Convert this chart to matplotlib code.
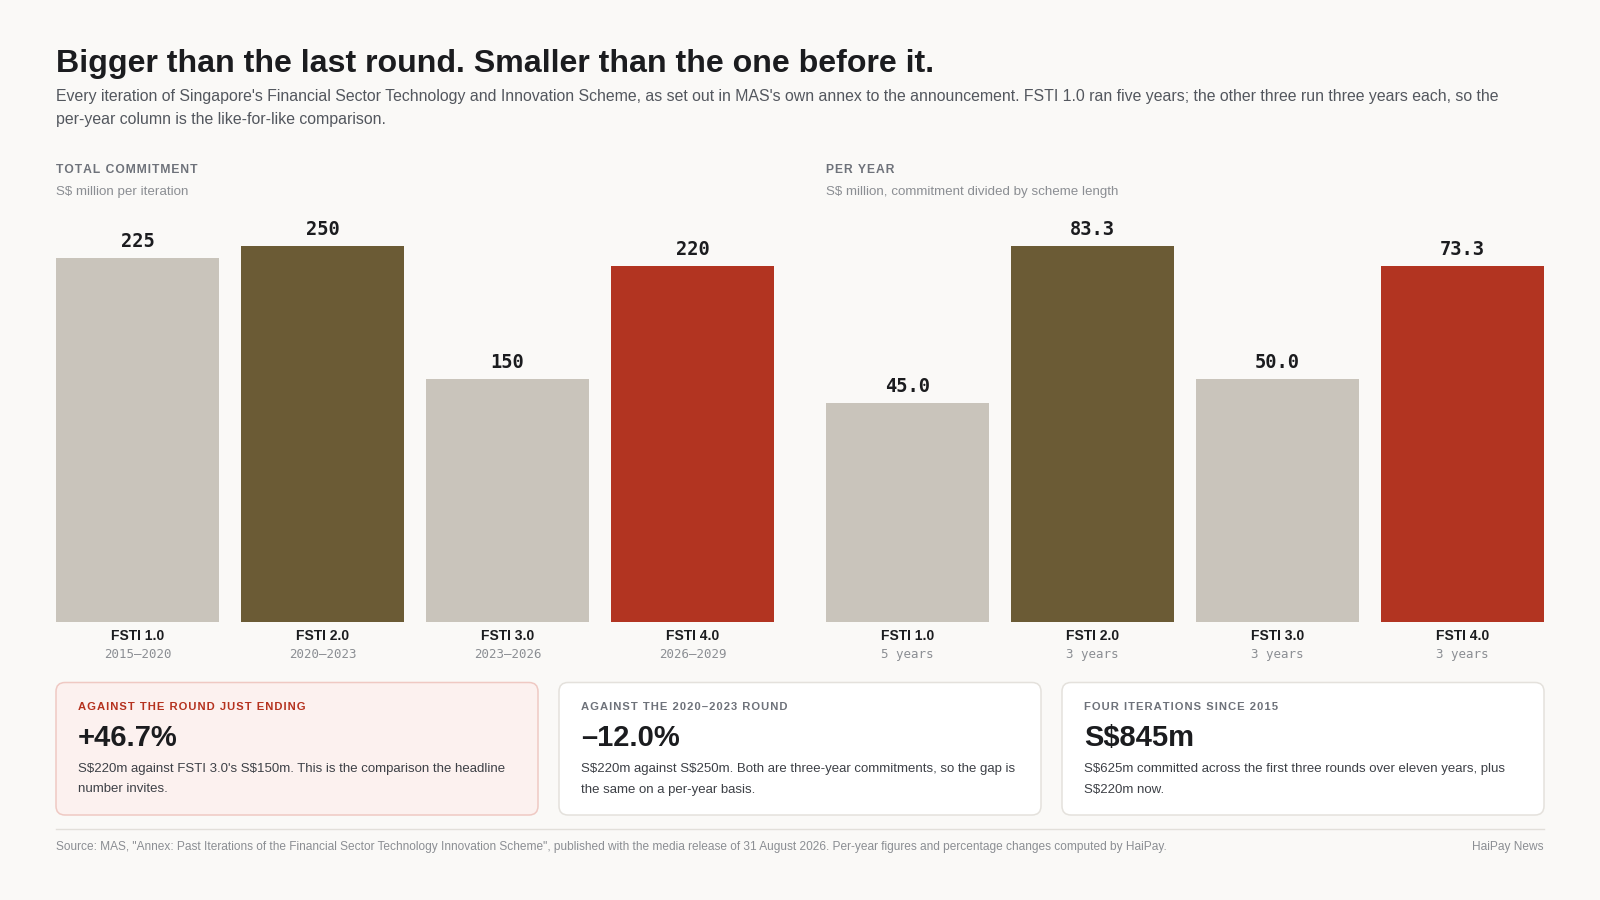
import matplotlib
matplotlib.use("Agg")
import matplotlib.pyplot as plt
from matplotlib.patches import FancyBboxPatch

plt.rcParams["text.parse_math"] = False

# data
iterations = ["FSTI 1.0", "FSTI 2.0", "FSTI 3.0", "FSTI 4.0"]
periods = ["2015–2020", "2020–2023", "2023–2026", "2026–2029"]
durations = ["5 years", "3 years", "3 years", "3 years"]
total_commitment = [225, 250, 150, 220]
per_year = [45.0, 83.3, 50.0, 73.3]

card_labels = ["AGAINST THE ROUND JUST ENDING", "AGAINST THE 2020–2023 ROUND", "FOUR ITERATIONS SINCE 2015"]
card_values = ["+46.7%", "–12.0%", "S$845m"]
card_notes = [
    "S$220m against FSTI 3.0's S$150m. This is the comparison the headline\nnumber invites.",
    "S$220m against S$250m. Both are three-year commitments, so the gap is\nthe same on a per-year basis.",
    "S$625m committed across the first three rounds over eleven years, plus\nS$220m now.",
]

# styles
BG = "#faf9f7"
INK = "#1b1c1f"
GREY = "#6e727a"
LIGHT = "#8b8e93"
bar_colors = ["#c9c4bb", "#6b5b35", "#c9c4bb", "#b23421"]
SANS = ["Liberation Sans", "DejaVu Sans"]
MONO = ["DejaVu Sans Mono"]
W, H = 1600, 900


def spaced(s):
    # poor man's letter-spacing
    return "\u200a".join(s)


fig = plt.figure(figsize=(16, 9), dpi=100, facecolor=BG)

# overlay in pixel coords for all the furniture
bg = fig.add_axes([0, 0, 1, 1], zorder=0)
bg.set_xlim(0, W)
bg.set_ylim(H, 0)
bg.axis("off")

bg.text(56, 72, "Bigger than the last round. Smaller than the one before it.",
        family=SANS, weight="bold", fontsize=23.1, color=INK, va="baseline")
bg.text(56, 97, "Every iteration of Singapore's Financial Sector Technology and Innovation Scheme, "
        "as set out in MAS's own annex to the announcement. FSTI 1.0 ran five years; the other three "
        "run three years each, so the", family=SANS, fontsize=11.45, color="#53575e", va="center")
bg.text(56, 119.5, "per-year column is the like-for-like comparison.",
        family=SANS, fontsize=11.45, color="#53575e", va="center")

for x0, head, sub in [(56, "TOTAL COMMITMENT", "S$ million per iteration"),
                      (826, "PER YEAR", "S$ million, commitment divided by scheme length")]:
    bg.text(x0, 170, spaced(head), family=SANS, weight="bold", fontsize=8.7, color=GREY, va="center")
    bg.text(x0, 191.5, sub, family=SANS, fontsize=9.6, color=LIGHT, va="center")

# bar panels
base_y, top_y = 621.7, 246.0
clip = 0.9288  # tallest bar runs past the panel top in the original
panels = [
    (56, total_commitment, periods, "{:.0f}"),
    (826, per_year, durations, "{:.1f}"),
]
for x0, vals, subs, fmt in panels:
    ax = fig.add_axes([x0 / W, 1 - base_y / H, 718 / W, (base_y - top_y) / H], zorder=2)
    ax.patch.set_alpha(0)
    xs = list(range(len(vals)))
    ax.bar(xs, vals, width=0.88, color=bar_colors, linewidth=0)
    top = max(vals) * clip
    ax.set_ylim(0, top)
    ax.set_xlim(-0.44, len(vals) - 1 + 0.44)
    ax.axis("off")
    for x, v, name, sub in zip(xs, vals, iterations, subs):
        ax.annotate(fmt.format(v), (x, min(v, top)), xytext=(0, 8), textcoords="offset points",
                    ha="center", va="baseline", family=MONO, weight="bold", fontsize=13.5,
                    color=INK, annotation_clip=False)
        ax.text(x, -(635.5 - base_y) / (base_y - top_y), name, transform=ax.get_xaxis_transform(),
                ha="center", va="center", family=SANS, weight="bold", fontsize=10, color=INK)
        ax.text(x, -(654.5 - base_y) / (base_y - top_y), sub, transform=ax.get_xaxis_transform(),
                ha="center", va="center", family=MONO, fontsize=9, color=LIGHT)

# cards
card_x = [56, 559, 1062]
card_w, card_y0, card_y1 = 482, 682.5, 815
for i, cx in enumerate(card_x):
    if i == 0:
        face, edge, lab = "#fcf1ef", "#efc9c3", "#b5321f"
    else:
        face, edge, lab = "#ffffff", "#e4e1dc", GREY
    bg.add_patch(FancyBboxPatch((cx, card_y0), card_w, card_y1 - card_y0,
                                boxstyle="round,pad=0,rounding_size=9",
                                facecolor=face, edgecolor=edge, linewidth=1.1))
    tx = cx + 22
    bg.text(tx, 706.5, spaced(card_labels[i]), family=SANS, weight="bold", fontsize=8.1,
            color=lab, va="center")
    bg.text(tx, 737.5, card_values[i], family=SANS, weight="bold", fontsize=21, color=INK, va="center")
    line1, line2 = card_notes[i].split("\n")
    bg.text(tx, 769, line1, family=SANS, fontsize=9.5, color="#3d4046", va="center")
    bg.text(tx, 789.5, line2, family=SANS, fontsize=9.5, color="#3d4046", va="center")

# footer
bg.plot([56, 1544], [829, 829], color="#e2dfda", linewidth=1)
bg.text(56, 847, "Source: MAS, \"Annex: Past Iterations of the Financial Sector Technology Innovation Scheme\", "
        "published with the media release of 31 August 2026. Per-year figures and percentage changes "
        "computed by HaiPay.", family=SANS, fontsize=8.55, color=LIGHT, va="center")
bg.text(1544, 847, "HaiPay News", family=SANS, fontsize=8.55, color=LIGHT, va="center", ha="right")

fig.savefig("out.png", dpi=100, facecolor=BG)
